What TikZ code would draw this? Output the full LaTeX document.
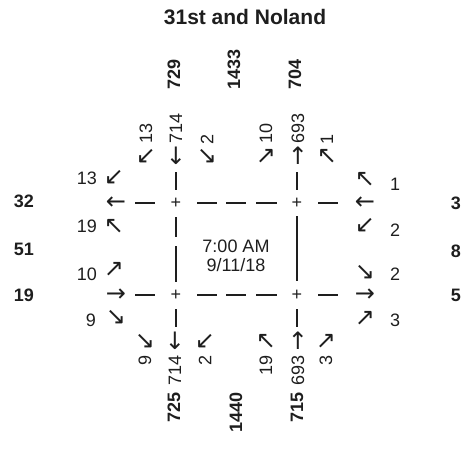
\documentclass[tikz,border=0pt]{standalone}
\usepackage{fontspec}
\setmainfont{Liberation Sans}
\newfontfamily\arrowfont{DejaVu Sans}
\definecolor{ink}{HTML}{1E1E1E}
\begin{document}
\begin{tikzpicture}[x=1pt,y=1pt,
  title/.style={font=\fontsize{21}{24}\selectfont\bfseries, text=ink, inner sep=0pt},
  num/.style={font=\fontsize{18}{20}\selectfont, text=ink, inner sep=0pt},
  bnum/.style={font=\fontsize{18}{20}\selectfont\bfseries, text=ink, inner sep=0pt},
  arr/.style={font=\arrowfont\fontsize{24}{26}\selectfont, text=ink, inner sep=0pt},
  plus/.style={font=\fontsize{18}{18}\selectfont, text=ink, inner sep=0pt},
  up/.style={rotate=90, anchor=west},
  dn/.style={rotate=90, anchor=east},
  seg/.style={draw=ink, line width=1.3pt}]
\useasboundingbox (0,0) rectangle (474,-459);

\node[title] (title) at (245,-17) {31st and Noland};

% top totals
\node[bnum,up] (tA) at (174,-90) {729};
\node[bnum,up] (tB) at (234,-90) {1433};
\node[bnum,up] (tC) at (295,-90) {704};

% top movements
\node[num,up] (t1) at (146,-144) {13};
\node[num,up] (t2) at (176,-144) {714};
\node[num,up] (t3) at (207,-145) {2};
\node[num,up] (t4) at (266,-144) {10};
\node[num,up] (t5) at (298,-144) {693};
\node[num,up] (t6) at (327,-145) {1};
\node[arr] (ta1) at (146,-156) {↙};
\node[arr] (ta2) at (176,-156) {↓};
\node[arr] (ta3) at (207,-156) {↘};
\node[arr] (ta4) at (266,-156) {↗};
\node[arr] (ta5) at (298,-156) {↑};
\node[arr] (ta6) at (327,-156) {↖};

% bottom movements
\node[arr] (ba1) at (145,-341) {↘};
\node[arr] (ba2) at (175,-341) {↓};
\node[arr] (ba3) at (205,-341) {↙};
\node[arr] (ba4) at (266,-341) {↖};
\node[arr] (ba5) at (298,-341) {↑};
\node[arr] (ba6) at (326,-341) {↗};
\node[num,dn] (b1) at (145,-355) {9};
\node[num,dn] (b2) at (175,-355) {714};
\node[num,dn] (b3) at (205,-355) {2};
\node[num,dn] (b4) at (266,-355) {19};
\node[num,dn] (b5) at (298,-355) {693};
\node[num,dn] (b6) at (326,-355) {3};

% bottom totals
\node[bnum,dn] (bA) at (174,-392) {725};
\node[bnum,dn] (bB) at (236,-392) {1440};
\node[bnum,dn] (bC) at (297,-392) {715};

% left side
\node[bnum] (lA) at (24,-201) {32};
\node[bnum] (lB) at (24,-249) {51};
\node[bnum] (lC) at (24,-295) {19};
\node[num,anchor=east] (l1) at (97,-178) {13};
\node[num,anchor=east] (l2) at (97,-226) {19};
\node[num,anchor=east] (l3) at (97,-274) {10};
\node[num,anchor=east] (l4) at (96,-320) {9};
\node[arr] (la1) at (114,-177) {↙};
\node[arr] (la2) at (116,-203) {←};
\node[arr] (la3) at (114,-226) {↖};
\node[arr] (la4) at (114,-269) {↗};
\node[arr] (la5) at (116,-295) {→};
\node[arr] (la6) at (116,-317) {↘};

% right side
\node[bnum] (rA) at (456,-203) {3};
\node[bnum] (rB) at (456,-251) {8};
\node[bnum] (rC) at (456,-295) {5};
\node[arr] (ra1) at (365,-179) {↖};
\node[arr] (ra2) at (365,-203) {←};
\node[arr] (ra3) at (365,-225) {↙};
\node[arr] (ra4) at (365,-272) {↘};
\node[arr] (ra5) at (365,-295) {→};
\node[arr] (ra6) at (365,-318) {↗};
\node[num,anchor=west] (r1) at (390,-184) {1};
\node[num,anchor=west] (r2) at (390,-230) {2};
\node[num,anchor=west] (r3) at (390,-274) {2};
\node[num,anchor=west] (r4) at (390,-320) {3};

% centre
\node[num] (time) at (236,-246) {7:00 AM};
\node[num] (date) at (236,-265) {9/11/18};

% intersection crosses
\node[plus] (pNW) at (176,-203) {+};
\node[plus] (pNE) at (297,-203) {+};
\node[plus] (pSW) at (176,-295) {+};
\node[plus] (pSE) at (297,-295) {+};

% road dashes
\foreach \y in {-203,-295}{
  \draw[seg] (135,\y) -- (155,\y);
  \draw[seg] (197,\y) -- (217,\y);
  \draw[seg] (226,\y) -- (246,\y);
  \draw[seg] (256,\y) -- (277,\y);
  \draw[seg] (318,\y) -- (338,\y);
}
\foreach \x in {176,297}{
  \draw[seg] (\x,-172) -- (\x,-190);
  \draw[seg] (\x,-309) -- (\x,-327);
}
\draw[seg] (176,-217) -- (176,-237);
\draw[seg] (176,-246) -- (176,-282);
\draw[seg] (297,-216) -- (297,-281);
\end{tikzpicture}
\end{document}
